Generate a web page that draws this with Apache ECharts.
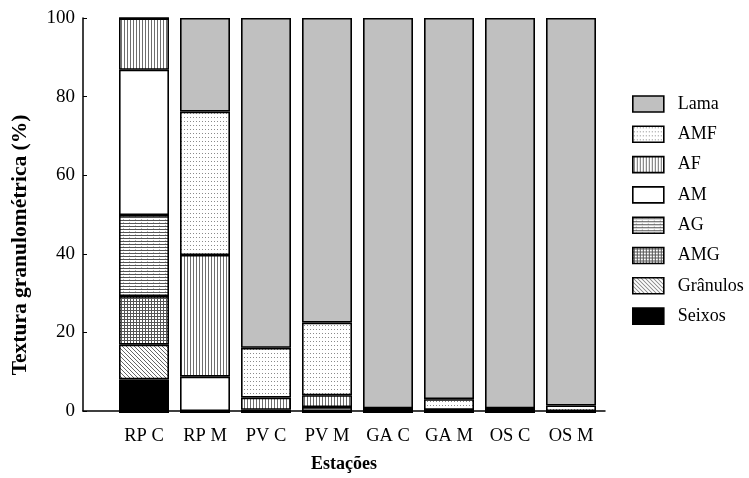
<!DOCTYPE html>
<html><head><meta charset="utf-8">
<script src="https://cdn.jsdelivr.net/npm/echarts@6/dist/echarts.min.js"></script>
<style>html,body{margin:0;padding:0;background:#fff}#c{width:749px;height:478px}</style>
</head><body><div id="c"></div>
<script>
var categories = ['RP C','RP M','PV C','PV M','GA C','GA M','OS C','OS M'];
var seixos   = [8.5, 0.5, 0.5, 0.5, 0.5, 0.5, 0.5, 0.5];
var granulos = [8.8, 0, 0, 0, 0, 0, 0, 0];
var amg      = [12.3, 0, 0, 0, 0, 0, 0, 0];
var ag       = [20.5, 0, 0, 0, 0, 0, 0, 0];
var am       = [36.8, 8.7, 0.3, 1.0, 0.7, 0.3, 0.7, 0];
var af       = [13.0, 30.8, 3.1, 3.0, 0, 0, 0, 0];
var amf      = [0, 36.3, 12.6, 18.4, 0, 2.7, 0, 1.4];
var lama     = [0.1, 23.7, 83.5, 77.1, 98.8, 96.5, 98.8, 98.1];
var yTicks = [0, 20, 40, 60, 80, 100];
var legendOrder = ['Lama','AMF','AF','AM','AG','AMG','Grânulos','Seixos'];

function pat(w, h, draw) {
  var c = document.createElement('canvas');
  c.width = w; c.height = h;
  var g = c.getContext('2d');
  g.fillStyle = '#fff'; g.fillRect(0, 0, w, h);
  draw(g);
  return {image: c, repeat: 'repeat'};
}
var fills = {
  'Lama': '#c0c0c0',
  'AMF': pat(3, 4, function(g){ g.fillStyle = '#8a8a8a'; g.fillRect(1, 1, 1, 1); }),
  'AF': pat(3, 1, function(g){ g.fillStyle = '#6e6e6e'; g.fillRect(1, 0, 1, 1); }),
  'AM': '#ffffff',
  'AG': pat(6, 3, function(g){ g.fillStyle = '#555'; g.fillRect(0, 1, 6, 1); g.fillStyle = '#bbb'; g.fillRect(3, 0, 1, 1); }),
  'AMG': pat(3, 3, function(g){ g.fillStyle = '#555'; g.fillRect(0, 1, 3, 1); g.fillRect(1, 0, 1, 3); }),
  'Grânulos': pat(4, 4, function(g){ g.fillStyle = '#666'; for (var i = 0; i < 4; i++) g.fillRect(i, i, 1, 1); }),
  'Seixos': '#000000'
};
var seriesData = {
  'Seixos': seixos, 'Grânulos': granulos, 'AMG': amg, 'AG': ag,
  'AM': am, 'AF': af, 'AMF': amf, 'Lama': lama
};
var stackOrder = ['Seixos','Grânulos','AMG','AG','AM','AF','AMF','Lama'];

var font = 'Liberation Serif';
var chart = echarts.init(document.getElementById('c'), null, {renderer: 'canvas'});
var series = stackOrder.map(function(name){
  return {
    name: name, type: 'bar', stack: 'total', xAxisIndex: 1, yAxisIndex: 1,
    barWidth: 50, data: seriesData[name],
    itemStyle: {color: fills[name], borderColor: '#000', borderWidth: 1.6},
    emphasis: {disabled: true}
  };
});
chart.setOption({
  animation: false,
  backgroundColor: '#fff',
  grid: [
    {left: 83, top: 18, width: 522, height: 395},
    {left: 113.5, top: 18, width: 488, height: 395}
  ],
  xAxis: [
    {gridIndex: 0, type: 'value', min: 0, max: 1,
     axisLine: {show: true, lineStyle: {color: '#000', width: 1.5}},
     axisTick: {show: false}, axisLabel: {show: false}, splitLine: {show: false},
     name: 'Estações', nameLocation: 'middle', nameGap: 44,
     nameTextStyle: {fontFamily: font, fontWeight: 'bold', fontSize: 18, color: '#000'}},
    {gridIndex: 1, type: 'category', data: categories,
     axisLine: {show: false}, axisTick: {show: false},
     axisLabel: {interval: 0, fontFamily: font, fontSize: 18.5, color: '#000', margin: 14}}
  ],
  yAxis: [
    {gridIndex: 0, type: 'value', min: 0, max: 100, interval: 20,
     axisLine: {show: true, lineStyle: {color: '#000', width: 1.5}},
     axisTick: {show: true, inside: true, length: 4, lineStyle: {color: '#000'}},
     axisLabel: {fontFamily: font, fontSize: 19, color: '#000', margin: 8,
       formatter: function(v){ return yTicks.indexOf(v) >= 0 ? String(v) : ''; }},
     splitLine: {show: false}},
    {gridIndex: 1, type: 'value', min: 0, max: 100, show: false}
  ],
  legend: {
    orient: 'vertical', left: 627, top: 90,
    icon: 'rect',
    itemWidth: 31, itemHeight: 16, itemGap: 12.3,
    data: legendOrder,
    itemStyle: {borderColor: '#000', borderWidth: 1.6},
    textStyle: {fontFamily: font, fontSize: 18, color: '#000', padding: [0, 0, 0, 9]},
    selectedMode: false
  },
  graphic: [{
    type: 'text', x: 20, y: 245,
    rotation: Math.PI / 2,
    style: {text: 'Textura granulométrica (%)', font: 'bold 21.5px "Liberation Serif"', fill: '#000',
            textAlign: 'center', textVerticalAlign: 'middle'}
  }],
  series: series
});
</script></body></html>
